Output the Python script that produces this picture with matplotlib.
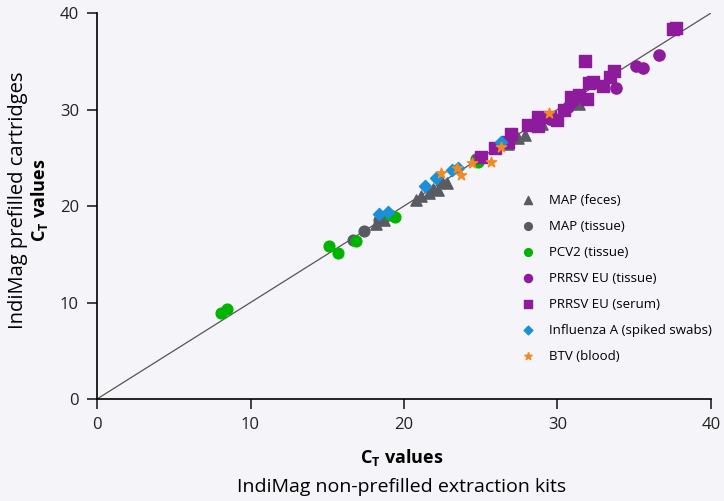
import matplotlib
matplotlib.use('Agg')
from matplotlib import pyplot as plt

plt.rcParams['font.family'] = ['Open Sans', 'DejaVu Sans']
plt.rcParams['mathtext.fontset'] = 'custom'
plt.rcParams['mathtext.rm'] = 'Open Sans'
plt.rcParams['mathtext.bf'] = 'Open Sans:bold'

# data (x: non-prefilled kits, y: prefilled cartridges)
map_feces_x = [18.2, 18.7, 20.8, 21.1, 21.6, 21.9, 22.2, 22.5, 22.8, 26.8, 27.4, 27.9, 29.0, 31.4]
map_feces_y = [18.1, 18.6, 20.6, 21.0, 21.4, 21.8, 21.7, 22.5, 22.4, 26.4, 27.0, 27.4, 28.5, 30.6]

map_tissue_x = [16.7, 17.4, 18.4, 18.6, 24.7]
map_tissue_y = [16.5, 17.4, 18.5, 18.7, 24.9]

pcv2_x = [8.1, 8.5, 15.1, 15.7, 16.9, 19.1, 19.4, 24.8]
pcv2_y = [8.9, 9.3, 15.85, 15.1, 16.4, 19.1, 18.9, 24.6]

prrsv_tissue_x = [29.5, 30.7, 31.0, 33.8, 35.1, 35.6, 36.6]
prrsv_tissue_y = [29.0, 30.3, 30.9, 32.2, 34.5, 34.3, 35.6]

prrsv_serum_x = [25.0, 25.9, 26.8, 27.0, 28.1, 28.7, 28.7, 29.5, 29.97, 30.4, 30.9,
                 31.4, 31.9, 31.8, 32.05, 32.3, 32.95, 33.4, 33.7, 37.5, 37.7]
prrsv_serum_y = [25.1, 26.0, 26.6, 27.5, 28.4, 29.2, 28.3, 29.2, 28.9, 29.9, 31.3,
                 31.5, 31.1, 35.0, 32.8, 32.9, 32.4, 33.4, 34.0, 38.3, 38.4]

flu_x = [18.4, 18.95, 21.4, 22.1, 23.1, 23.5, 26.3]
flu_y = [19.2, 19.4, 22.05, 22.9, 23.7, 23.9, 26.6]

btv_x = [22.4, 23.45, 23.7, 24.4, 25.7, 26.3, 29.45]
btv_y = [23.4, 23.9, 23.2, 24.45, 24.55, 26.1, 29.6]

bg = '#f4f4f9'
fig = plt.figure(figsize=(7.24, 5.01), dpi=100, facecolor=bg)
ax = fig.add_axes([0.134, 0.2036, 0.848, 0.7704])
ax.set_facecolor(bg)

ax.plot([0, 40], [0, 40], color='#555555', lw=0.9, zorder=1)

ax.scatter(map_feces_x, map_feces_y, marker='^', s=65, color='#585c62', label='MAP (feces)', zorder=3)
ax.scatter(map_tissue_x, map_tissue_y, marker='o', s=60, color='#585c62', label='MAP (tissue)', zorder=3)
ax.scatter(pcv2_x, pcv2_y, marker='o', s=60, color='#00b400', label='PCV2 (tissue)', zorder=3)
ax.scatter(prrsv_tissue_x, prrsv_tissue_y, marker='o', s=65, color='#8e1b9c', label='PRRSV EU (tissue)', zorder=3)
ax.scatter(prrsv_serum_x, prrsv_serum_y, marker='s', s=70, color='#8e1b9c', label='PRRSV EU (serum)', zorder=3)
ax.scatter(flu_x, flu_y, marker='D', s=38, color='#1a90d8', label='Influenza A (spiked swabs)', zorder=4)
ax.scatter(btv_x, btv_y, marker='*', s=60, color='#f28a22', label='BTV (blood)', zorder=4)

ax.set_xlim(0, 40)
ax.set_ylim(0, 40)
ax.set_xticks([0, 10, 20, 30, 40])
ax.set_yticks([0, 10, 20, 30, 40])
for s in ['top', 'right']:
    ax.spines[s].set_visible(False)
for s in ['left', 'bottom']:
    ax.spines[s].set_linewidth(1.2)
ax.tick_params(direction='out', length=7, width=1.2, labelsize=12, colors='#222222', pad=6)

leg = ax.legend(loc='upper left', bbox_to_anchor=(0.672, 0.545), frameon=False, fontsize=9.5,
                markerscale=0.72, handletextpad=0.6, labelspacing=0.98, borderaxespad=0)

fig.text(0.555, 0.086, r'$\mathbf{C_T}$ values', ha='center', va='center', fontsize=13, fontweight='bold')
fig.text(0.555, 0.028, 'IndiMag non-prefilled extraction kits', ha='center', va='center', fontsize=14)
fig.text(0.025, 0.60, 'IndiMag prefilled cartridges', ha='center', va='center', rotation=90, fontsize=14.5)
fig.text(0.055, 0.60, r'$\mathbf{C_T}$ values', ha='center', va='center', rotation=90, fontsize=13, fontweight='bold')

fig.savefig('out.png', dpi=100, facecolor=bg)
